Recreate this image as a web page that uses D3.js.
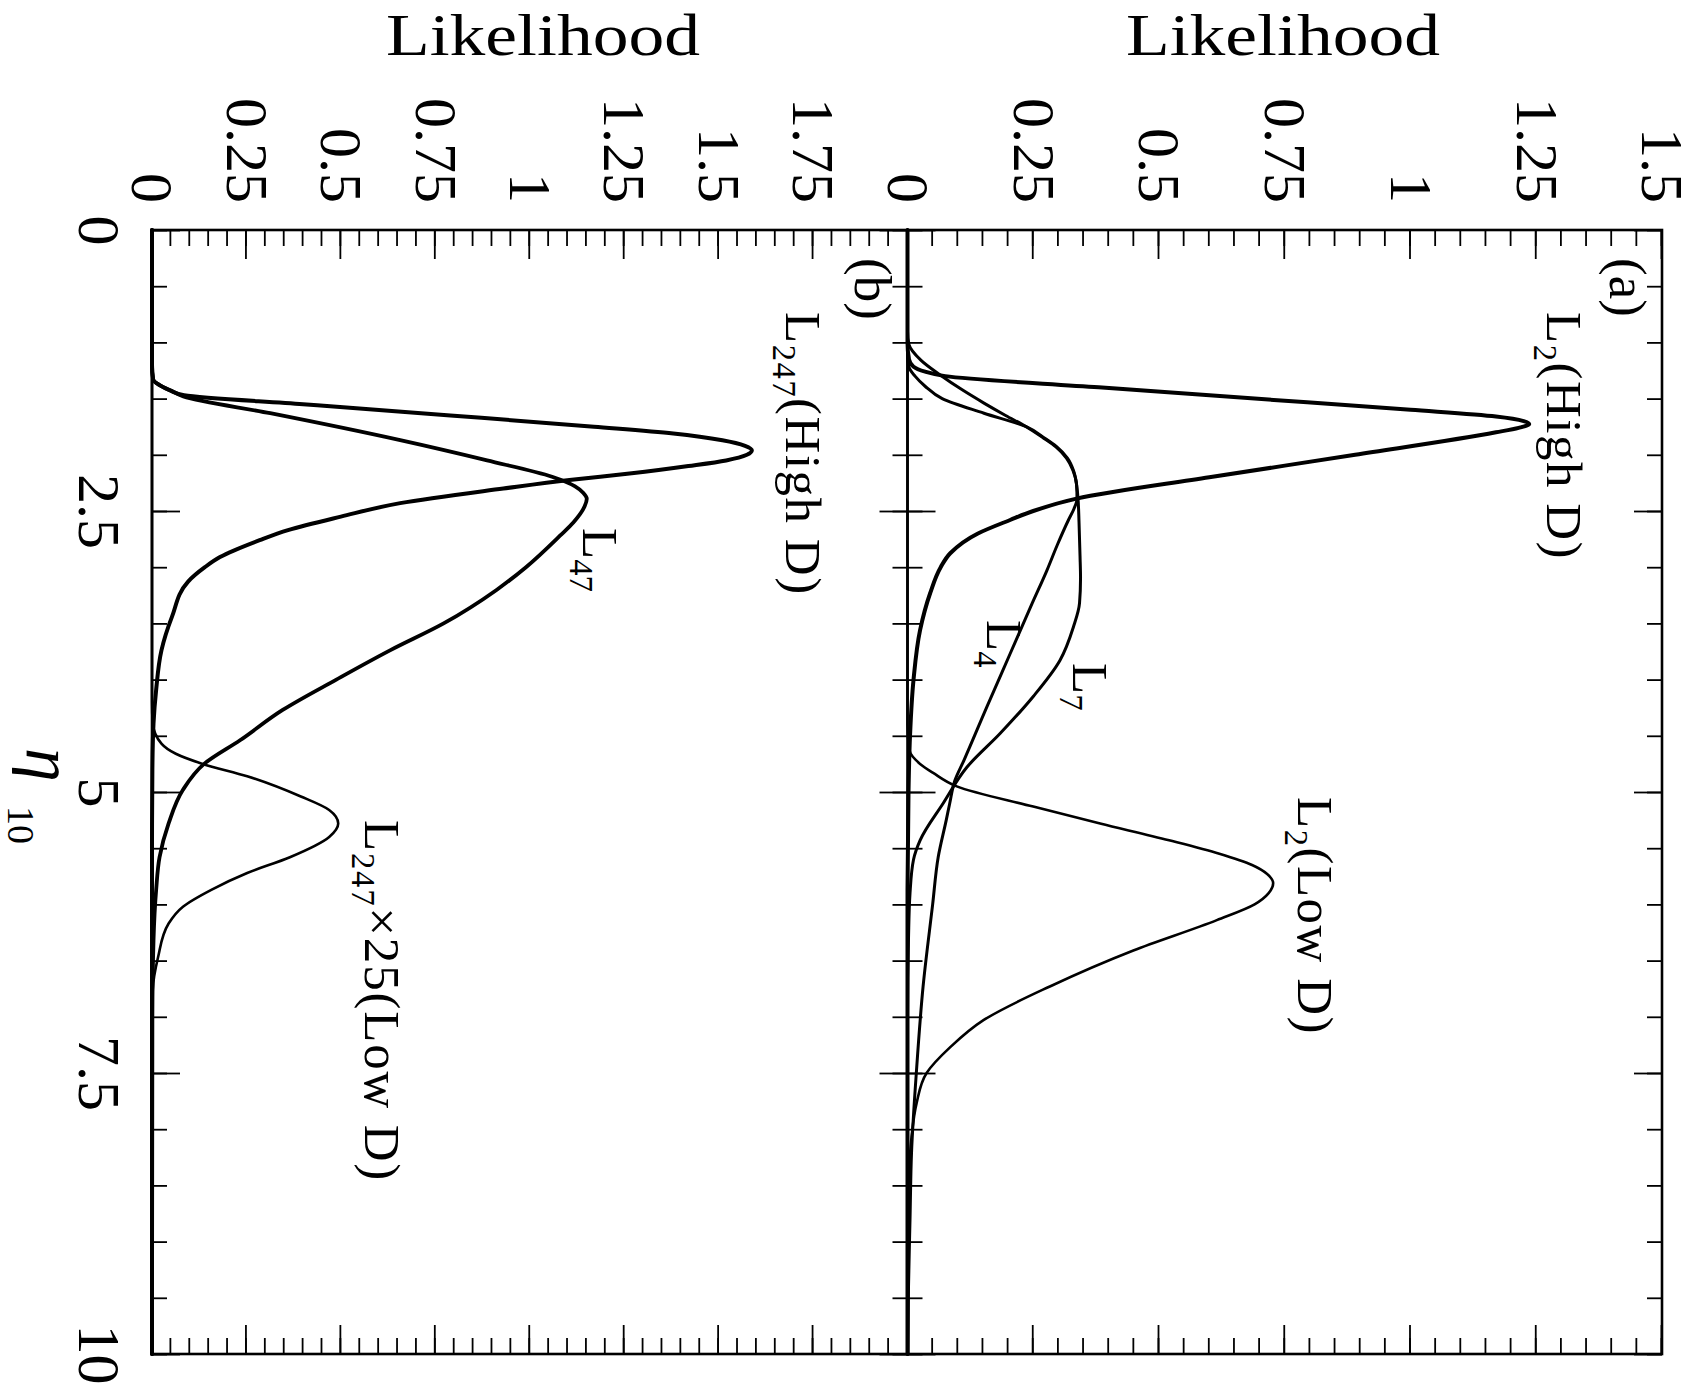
<!DOCTYPE html>
<html>
<head>
<meta charset="utf-8">
<script src="https://cdn.jsdelivr.net/npm/d3@7"></script>
<style>
  html, body { margin: 0; padding: 0; background: #fff; }
  svg { display: block; }
  text { font-family: "Liberation Serif", "DejaVu Serif", serif; fill: #000; }
</style>
</head>
<body>
<svg id="chart" width="1698" height="1392"></svg>
<script>
// ---- data: [eta10, likelihood] samples for each curve ----
// panel (a)
const L2High = [[0,0],[1.0,0],[1.15,0.003],[1.216,0.012],[1.26,0.035],[1.30,0.075],[1.40,0.38],[1.50,0.69],[1.60,1.0],[1.66,1.17],[1.70,1.225],[1.726,1.236],[1.76,1.215],[1.80,1.17],[2.0,0.89],[2.2,0.60],[2.39,0.336],[2.5,0.25],[2.58,0.204],[2.7,0.14],[2.876,0.085],[3.0,0.066],[3.232,0.045],[3.56,0.025],[4.0,0.012],[4.5,0.005],[5.0,0.002],[6,0],[10,0]];
const L2Low = [[0,0],[4.4,0],[4.63,0.004],[4.75,0.025],[4.83,0.051],[4.95,0.098],[5.13,0.25],[5.28,0.383],[5.43,0.52],[5.55,0.62],[5.65,0.685],[5.73,0.715],[5.81,0.727],[5.9,0.718],[6.0,0.69],[6.14,0.615],[6.41,0.449],[6.73,0.283],[7.03,0.151],[7.27,0.085],[7.5,0.038],[7.77,0.018],[8.07,0.008],[8.5,0.002],[9,0],[10,0]];
const L4 = [[0,0],[0.9,0],[1.02,0.003],[1.16,0.027],[1.29,0.065],[1.42,0.108],[1.54,0.152],[1.65,0.195],[1.75,0.236],[1.85,0.27],[1.93,0.295],[2.03,0.316],[2.14,0.329],[2.26,0.336],[2.39,0.337],[2.48,0.331],[2.58,0.32],[2.8,0.298],[3.03,0.277],[3.32,0.248],[3.77,0.204],[4.24,0.158],[4.72,0.112],[4.9,0.094],[5.1,0.084],[5.25,0.077],[5.58,0.061],[6.0,0.05],[6.73,0.031],[7.47,0.018],[8.21,0.008],[8.8,0.005],[9.4,0.002],[10,0.001]];
const L7 = [[0,0],[1.1,0],[1.22,0.003],[1.3,0.015],[1.39,0.035],[1.5,0.069],[1.63,0.152],[1.75,0.236],[1.85,0.272],[1.93,0.297],[2.03,0.318],[2.14,0.33],[2.26,0.336],[2.39,0.339],[2.6,0.341],[2.9,0.343],[3.1,0.344],[3.32,0.342],[3.53,0.33],[3.83,0.303],[4.15,0.25],[4.48,0.184],[4.78,0.118],[5.1,0.071],[5.43,0.025],[5.6,0.012],[5.9,0.005],[6.3,0.002],[7,0],[10,0]];
// panel (b)
const L247High = [[0,0],[1.2,0],[1.33,0.003],[1.38,0.02],[1.43,0.05],[1.47,0.085],[1.55,0.40],[1.65,0.79],[1.75,1.17],[1.81,1.38],[1.87,1.51],[1.92,1.57],[1.96,1.588],[2.0,1.575],[2.05,1.52],[2.1,1.42],[2.165,1.27],[2.224,1.105],[2.3,0.93],[2.43,0.657],[2.55,0.5],[2.67,0.36],[2.76,0.285],[2.91,0.18],[3.0,0.14],[3.13,0.095],[3.44,0.053],[3.74,0.025],[4.09,0.011],[4.39,0.004],[4.8,0.001],[5.5,0],[10,0]];
const L47 = [[0,0],[1.2,0],[1.33,0.003],[1.38,0.02],[1.43,0.05],[1.48,0.083],[1.63,0.313],[1.87,0.657],[2.05,0.887],[2.195,1.059],[2.28,1.12],[2.34,1.142],[2.39,1.151],[2.46,1.145],[2.6,1.116],[2.72,1.08],[3.0,0.99],[3.2,0.913],[3.5,0.772],[3.74,0.63],[4.0,0.488],[4.27,0.346],[4.54,0.233],[4.75,0.138],[4.98,0.082],[5.28,0.044],[5.58,0.02],[5.87,0.011],[6.32,0.004],[7,0.001],[10,0]];
const L247LowX25 = [[0,0],[4.2,0],[4.39,0.002],[4.57,0.025],[4.66,0.063],[4.75,0.134],[4.86,0.252],[5.04,0.394],[5.16,0.469],[5.28,0.493],[5.40,0.469],[5.58,0.365],[5.72,0.252],[5.87,0.157],[6.02,0.082],[6.17,0.044],[6.47,0.016],[6.76,0.002],[7.2,0],[10,0]];

// ---- axis ticks ----
const etaMajor = [0, 2.5, 5, 7.5, 10];
const etaMinor = d3.range(0, 21).map(i => i * 0.5);
const likMajorA = [0, 0.25, 0.5, 0.75, 1, 1.25, 1.5];
const likMajorB = [0, 0.25, 0.5, 0.75, 1, 1.25, 1.5, 1.75];
const likMinorA = d3.range(0, 31).map(i => i * 0.05);
const likMinorB = d3.range(0, 41).map(i => i * 0.05);

// ---- layout ----
const W = 1698, H = 1392;
const svg = d3.select("#chart");
svg.append("rect").attr("width", W).attr("height", H).attr("fill", "#fff");

// The figure is laid out landscape (eta along x, likelihood up) and turned a quarter clockwise.
const fig = svg.append("g").attr("transform", `translate(${W},0) rotate(90)`);

const x = d3.scaleLinear().domain([0, 10]).range([230, 1354]);
const yA = d3.scaleLinear().domain([0, 1.5]).range([790.5, 36]);
const yB = d3.scaleLinear().domain([0, 2]).range([1546, 790.5]);

const FS = 60;

function styleAxis(g, size) {
  g.select(".domain").remove();
  g.attr("font-family", null).attr("font-size", null);
  g.selectAll(".tick line").attr("stroke", "#000").attr("stroke-width", 1.8);
  g.selectAll(".tick text").attr("font-size", size).attr("fill", "#000");
}

// eta ticks along the horizontal edges of both panels
function etaTicks(v, dir, withLabels) {
  fig.append("g").attr("transform", `translate(0,${v})`)
    .call(d3.axisBottom(x).tickValues(etaMinor).tickSize(dir * 15).tickFormat(""))
    .call(g => styleAxis(g, FS));
  fig.append("g").attr("transform", `translate(0,${v})`)
    .call(d3.axisBottom(x).tickValues(etaMajor).tickSize(dir * 28).tickPadding(30)
      .tickFormat(withLabels ? (d => String(d)) : ""))
    .call(g => styleAxis(g, FS));
}
etaTicks(yB(0), -1, true);   // bottom of panel (b)
etaTicks(yB(2), 1, false);   // top of panel (b)
etaTicks(yA(0), -1, false);  // bottom of panel (a)
etaTicks(yA(1.5), 1, false); // top of panel (a)

// likelihood ticks on the left and right edges
function likTicks(scale, minor, major) {
  fig.append("g").attr("transform", `translate(${x(0)},0)`)
    .call(d3.axisLeft(scale).tickValues(minor).tickSize(-16).tickFormat(""))
    .call(g => styleAxis(g, FS));
  fig.append("g").attr("transform", `translate(${x(0)},0)`)
    .call(d3.axisLeft(scale).tickValues(major).tickSize(-29).tickPadding(27).tickFormat(d => String(d)))
    .call(g => styleAxis(g, FS));
  fig.append("g").attr("transform", `translate(${x(10)},0)`)
    .call(d3.axisRight(scale).tickValues(minor).tickSize(-16).tickFormat(""))
    .call(g => styleAxis(g, FS));
  fig.append("g").attr("transform", `translate(${x(10)},0)`)
    .call(d3.axisRight(scale).tickValues(major).tickSize(-29).tickFormat(""))
    .call(g => styleAxis(g, FS));
}
likTicks(yA, likMinorA, likMajorA);
likTicks(yB, likMinorB, likMajorB);

// frame and panel divider
fig.append("rect")
  .attr("x", x(0)).attr("y", yA(1.5))
  .attr("width", x(10) - x(0)).attr("height", yB(0) - yA(1.5))
  .attr("fill", "none").attr("stroke", "#000").attr("stroke-width", 2.6);
fig.append("line")
  .attr("x1", x(0)).attr("x2", x(10)).attr("y1", yA(0)).attr("y2", yA(0))
  .attr("stroke", "#000").attr("stroke-width", 2.6);

// curves
function curve(data, yScale, width) {
  const line = d3.line().x(d => x(d[0])).y(d => yScale(d[1])).curve(d3.curveMonotoneX);
  fig.append("path").datum(data).attr("d", line)
    .attr("fill", "none").attr("stroke", "#000")
    .attr("stroke-width", width).attr("stroke-linejoin", "round").attr("stroke-linecap", "round");
}
curve(L2Low, yA, 2.6);
curve(L4, yA, 3.0);
curve(L7, yA, 3.0);
curve(L2High, yA, 4.0);
curve(L247LowX25, yB, 2.6);
curve(L47, yB, 3.8);
curve(L247High, yB, 4.0);

// axis titles
function likTitle(v) {
  fig.append("text")
    .attr("transform", `translate(55,${v}) rotate(-90)`)
    .attr("text-anchor", "middle").attr("font-size", 60)
    .attr("textLength", 314).attr("lengthAdjust", "spacingAndGlyphs")
    .text("Likelihood");
}
likTitle(W - 1283);
likTitle(W - 543);

fig.append("text").attr("x", 748).attr("y", W - 26)
  .attr("font-size", 68).attr("font-style", "italic")
  .text("η");
fig.append("text").attr("x", 806).attr("y", W - 8)
  .attr("font-size", 38)
  .text("10");

// curve annotations (text with subscripts)
function note(u, pageX, size, pieces, spacing) {
  const t = fig.append("text").attr("x", u).attr("y", W - pageX)
    .attr("font-size", size).attr("letter-spacing", spacing || 0);
  let low = false;
  pieces.forEach(([s, sub]) => {
    const ts = t.append("tspan").text(s);
    if (sub && !low) { ts.attr("dy", size * 0.25).attr("font-size", size * 0.64); low = true; }
    else if (!sub && low) { ts.attr("dy", -size * 0.25); low = false; }
  });
}
const NS = 51;
note(258, 1610, 53, [["(a)"]]);
note(312, 1547, NS, [["L"], ["2", true], ["(High D)"]], 1.5);
note(797, 1298, NS, [["L"], ["2", true], ["(Low D)"]], 1.5);
note(620, 987, NS, [["L"], ["4", true]]);
note(663, 1073, NS, [["L"], ["7", true]]);
note(258, 855, 53, [["(b)"]]);
note(312, 786, NS, [["L"], ["247", true], ["(High D)"]], 1.5);
note(528, 583, NS, [["L"], ["47", true]]);
note(820, 365, NS, [["L"], ["247", true], ["×25(Low D)"]], 1.8);
</script>
</body>
</html>
